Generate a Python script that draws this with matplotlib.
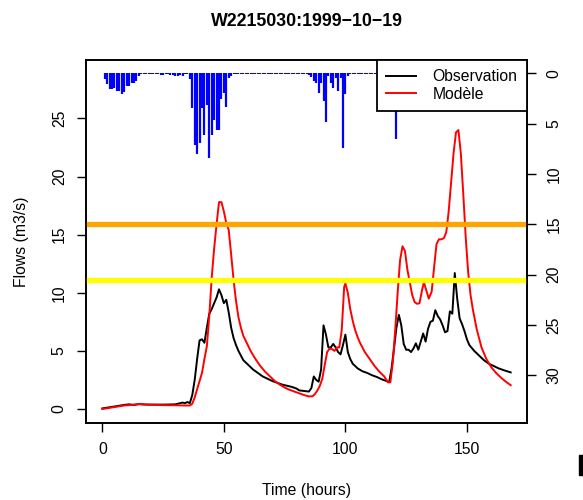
import matplotlib
matplotlib.use("Agg")
import matplotlib.pyplot as plt
from matplotlib.patches import Rectangle

plt.rcParams['font.family'] = ['Liberation Sans', 'DejaVu Sans']

title = "W2215030:1999\u221210\u221219"
x_label = "Time (hours)"
y_label = "Flows (m3/s)"
series_names = ["Observation", "Mod\u00e8le"]

obs_t = [0, 3, 6, 9, 11, 13, 15, 18, 22, 26, 30, 33, 34, 35, 36, 37, 38, 39, 40, 41,
         42, 43, 44, 45, 46, 47, 48, 49, 50, 51, 52, 53, 54, 55, 56, 57, 58, 60, 62, 64,
         66, 68, 70, 72, 74, 76, 78, 80, 81, 83, 85, 86, 87, 88, 89, 90, 91, 92, 93, 94,
         95, 96, 97, 98, 99, 100, 101, 102, 103, 105, 107, 109, 111, 113, 115, 117, 118, 119, 120, 121,
         122, 123, 124, 125, 126, 127, 128, 129, 130, 131, 132, 133, 134, 135, 136, 137, 138, 139, 140, 141,
         142, 143, 144, 145, 146, 147, 148, 149, 150, 151, 153, 155, 157, 159, 161, 163, 165, 168]
obs_q = [0.05, 0.15, 0.25, 0.35, 0.4, 0.35, 0.42, 0.38, 0.38, 0.38, 0.4, 0.55, 0.5, 0.6, 0.5, 1.2, 2.5, 4.3, 5.9, 6.0,
         5.7, 7.0, 8.2, 8.6, 9.1, 9.6, 10.3, 9.8, 9.1, 9.4, 8.3, 7.0, 6.1, 5.5, 5.0, 4.6, 4.2, 3.8, 3.4, 3.1,
         2.8, 2.6, 2.4, 2.25, 2.1, 2.0, 1.9, 1.75, 1.6, 1.55, 1.5, 1.8, 2.8, 2.5, 2.35, 3.4, 7.2, 6.4, 5.3, 5.3,
         5.6, 5.3, 4.9, 4.7, 5.5, 6.4, 4.9, 4.3, 3.9, 3.5, 3.25, 3.1, 2.9, 2.75, 2.55, 2.4, 2.3, 3.5, 5.2, 7.0,
         8.1, 7.2, 5.6, 5.1, 5.1, 4.9, 5.2, 5.65, 5.1, 5.8, 6.5, 5.8, 6.9, 7.5, 7.6, 8.5, 8.0, 7.7, 7.2, 6.6,
         6.7, 8.4, 8.2, 11.7, 9.5, 7.8, 7.3, 6.7, 6.0, 5.5, 5.0, 4.6, 4.2, 3.9, 3.7, 3.5, 3.35, 3.15]

mod_t = [0, 3, 6, 9, 12, 15, 18, 22, 26, 30, 34, 36, 37, 38, 39, 40, 41, 42, 43, 44,
         45, 46, 47, 48, 49, 50, 51, 52, 53, 54, 55, 56, 57, 58, 59.5, 61, 63, 65, 67, 69,
         71, 73, 75, 77, 79, 81, 83, 85, 86.5, 87.5, 88.5, 89.5, 90.5, 91.5, 92.5, 93.5, 94.5, 95.5, 96.5, 97.5,
         98.5, 99.5, 100, 101, 102, 103, 104, 105, 106, 107, 108, 110, 112, 114, 116, 117.5, 118.5, 119.5, 120.5, 121.5,
         122.5, 123.5, 124.5, 125.5, 126.5, 127.5, 128.5, 129.5, 130.5, 131.5, 132.3, 133.3, 134.3, 135.5, 136.5, 137.5, 138.5, 139.5, 140.5, 141.5,
         142.5, 143.5, 144.5, 145.5, 146.5, 147.5, 148.5, 149.5, 150.5, 151.5, 152.5, 154, 156, 158, 160, 162, 164, 166, 168]
mod_q = [0.0, 0.1, 0.2, 0.3, 0.35, 0.42, 0.38, 0.35, 0.33, 0.32, 0.3, 0.3, 0.45, 1.0, 1.7, 2.4, 3.1, 4.3, 5.4, 8.0,
         11.3, 13.8, 15.9, 17.8, 17.8, 17.0, 16.0, 15.4, 13.3, 11.1, 9.3, 7.9, 7.0, 6.3, 5.65, 5.0, 4.3, 3.7, 3.2, 2.8,
         2.4, 2.1, 1.85, 1.65, 1.5, 1.35, 1.2, 1.08, 1.1, 1.3, 1.6, 2.0, 2.6, 3.8, 4.9, 5.2, 5.15, 5.0, 5.3, 5.3,
         6.8, 10.5, 10.8, 10.0, 8.6, 7.6, 6.8, 6.2, 5.7, 5.3, 4.9, 4.3, 3.7, 3.2, 2.8, 2.3, 2.3, 4.0, 6.8, 10.0,
         12.8, 14.0, 13.6, 12.0, 10.9, 9.8, 9.2, 9.05, 9.1, 10.2, 10.9, 10.2, 9.5, 10.1, 12.2, 14.2, 14.6, 14.6, 14.7, 15.2,
         17.0, 19.5, 22.0, 23.8, 24.0, 22.0, 18.5, 14.8, 11.8, 9.8, 8.5, 6.9, 5.3, 4.3, 3.6, 3.1, 2.7, 2.35, 2.05]

rain_t = list(range(0, 169))
rain = [0.0,
        0.6, 1.1, 1.6, 1.6, 1.5, 1.8, 1.8, 2.1, 1.9, 1.3, 1.3, 1.0, 1.0, 0.8, 0.3,
        0.1, 0.1, 0.1, 0.1, 0.1, 0.1, 0.1, 0.1, 0.15, 0.15, 0.1, 0.1, 0.2, 0.2, 0.25, 0.25, 0.2, 0.25, 0.1, 0.1,
        0.6, 3.4, 7.1, 8.0, 6.9, 3.4, 6.1, 3.1, 8.4, 6.1, 4.6, 5.6, 5.6, 2.6, 2.0, 3.3, 0.5, 0.3,
        0.1, 0.1, 0.1, 0.1, 0.1, 0.1, 0.1, 0.1, 0.1, 0.1, 0.1, 0.1, 0.1, 0.1, 0.1, 0.1,
        0.1, 0.1, 0.1, 0.1, 0.1, 0.1, 0.1, 0.1, 0.1, 0.1, 0.1, 0.1, 0.1, 0.1, 0.1,
        0.2, 0.4, 0.8, 1.0, 2.0, 1.0, 2.8, 4.8, 0.3, 1.0, 1.5, 0.5, 1.8, 0.5, 7.4, 2.1, 0.3,
        0.1, 0.1, 0.1, 0.1, 0.1, 0.1, 0.1, 0.1, 0.1, 0.1, 0.1, 0.1, 0.1, 0.1, 0.1, 0.1, 0.1, 0.1, 0.1,
        6.5,
        0.1, 0.1, 0.1, 0.1, 0.1, 0.1, 0.1, 0.1, 0.1, 0.1, 0.1, 0.1, 0.1, 0.1, 0.1, 0.1,
        0.1, 0.1, 0.1, 0.1, 0.1, 0.1, 0.1, 0.1, 0.1, 0.1, 0.1, 0.1, 0.1, 0.1, 0.1, 0.1,
        0.1, 0.1, 0.1, 0.1, 0.1, 0.1, 0.1, 0.1, 0.1, 0.1, 0.1, 0.1, 0.1, 0.1, 0.1]

thresholds = [15.9, 11.1]
threshold_colors = ['#FFA500', '#FFFF00']

x_ticks = [0, 50, 100, 150]
y_ticks = [0, 5, 10, 15, 20, 25]
rain_ticks = [0, 5, 10, 15, 20, 25, 30]

FS = 11.3

fig = plt.figure(figsize=(5.83, 5.0), dpi=100)
ax = fig.add_axes([86 / 583, 1 - 423 / 500, 441 / 583, 363 / 500])
ax.set_xlim(-6.72, 174.72)
ax.set_ylim(-1.205, 30.03)

l_obs, = ax.plot(obs_t, obs_q, color='black', lw=1.4, label=series_names[0])
l_mod, = ax.plot(mod_t, mod_q, color='#FF0000', lw=1.4, label=series_names[1])
for th, c in zip(thresholds, threshold_colors):
    ax.axhline(th, color=c, lw=3.8, zorder=5)

ax.set_xticks(x_ticks)
ax.set_xticklabels([str(v) for v in x_ticks], fontsize=FS)
ax.set_yticks(y_ticks)
ax.set_yticklabels([str(v) for v in y_ticks], fontsize=FS, rotation=90, va='center')
ax.tick_params(axis='x', direction='out', length=6.5, width=1.0, pad=7.5)
ax.tick_params(axis='y', direction='out', length=6.5, width=1.0, pad=7.3)

ax.set_xlabel(x_label, fontsize=FS)
ax.xaxis.set_label_coords(0.5, -(490 - 423) / 363)
ax.xaxis.label.set_va('center')
ax.set_ylabel(y_label, fontsize=FS)
ax.yaxis.set_label_coords((22 - 86) / 441, 0.5)
ax.yaxis.label.set_va('center')

ax2 = ax.twinx()
ax2.set_ylim(34.73, -1.32)
ax2.vlines(rain_t, 0, rain, color='#0000FF', lw=1.6)
ax2.set_yticks(rain_ticks)
ax2.set_yticklabels([str(v) for v in rain_ticks], fontsize=FS, rotation=90, va='center')
ax2.tick_params(axis='y', direction='out', length=6.5, width=1.0, pad=7.5)

for a in (ax, ax2):
    for s in a.spines.values():
        s.set_linewidth(1.2)
        s.set_color('black')

ax.set_title(title, fontsize=12.8, fontweight='bold', y=1.0, pad=0)
ax.title.set_position((0.5, 1 + (60 - 22) / 363))
ax.title.set_va('center')

leg = ax2.legend(handles=[l_obs, l_mod], loc='upper right', bbox_to_anchor=(1, 1),
                 borderaxespad=0, fancybox=False, framealpha=1, edgecolor='black',
                 fontsize=FS, handlelength=1.91, handletextpad=1.05, borderpad=0.6,
                 labelspacing=0.14)
leg.get_frame().set_linewidth(1.3)
leg.set_zorder(10)

fig.patches.append(Rectangle((579 / 583, 1 - 475 / 500), 4 / 583, 20 / 500,
                             transform=fig.transFigure, color='black'))

fig.savefig('out.png', dpi=100)
